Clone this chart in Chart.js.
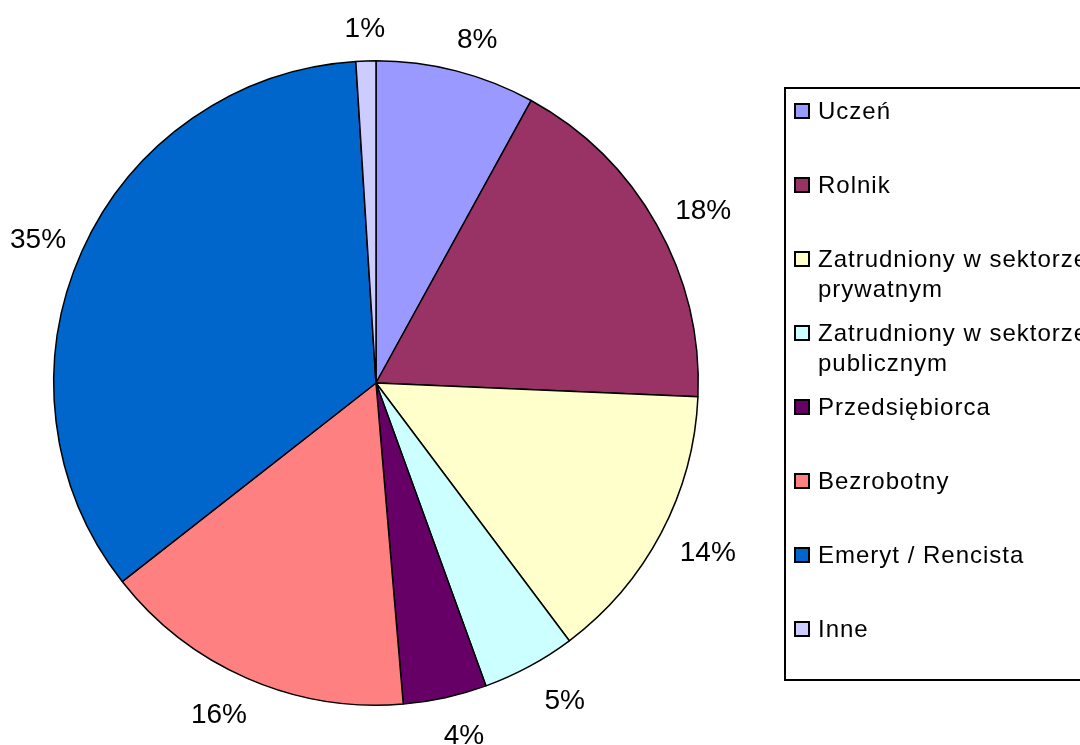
<!DOCTYPE html>
<html>
<head>
<meta charset="utf-8">
<script src="https://cdn.jsdelivr.net/npm/chart.js@4/dist/chart.umd.min.js"></script>
<style>
  html, body { margin: 0; padding: 0; background: #fff; }
  #wrap { width: 1080px; height: 745px; position: relative; }
</style>
</head>
<body>
<div id="wrap"><canvas id="pieChart"></canvas></div>
<script>
// Data
const categories = [
  "Uczeń",
  "Rolnik",
  "Zatrudniony w sektorze prywatnym",
  "Zatrudniony w sektorze publicznym",
  "Przedsiębiorca",
  "Bezrobotny",
  "Emeryt / Rencista",
  "Inne",
];
// legend lines (wrapped as in the picture)
const legendLines = [
  ["Uczeń"],
  ["Rolnik"],
  ["Zatrudniony w sektorze", "prywatnym"],
  ["Zatrudniony w sektorze", "publicznym"],
  ["Przedsiębiorca"],
  ["Bezrobotny"],
  ["Emeryt / Rencista"],
  ["Inne"],
];
const shares = [8.0, 17.7, 14.1, 4.7, 4.2, 15.8, 34.6, 1.0];
const sliceColors = [
  "#9999FF", "#993366", "#FFFFCC", "#CCFFFF",
  "#660066", "#FF8080", "#0066CC", "#CCCCFF",
];

const FONT = "'Liberation Sans', Arial, sans-serif";

// percentage labels outside the pie (a bit wider sideways than up/down, like Excel)
const outsideLabels = {
  id: "outsideLabels",
  afterDatasetsDraw(chart) {
    const ctx = chart.ctx;
    const meta = chart.getDatasetMeta(0);
    const data = chart.data.datasets[0].data;
    const total = data.reduce((a, b) => a + b, 0);
    ctx.save();
    ctx.font = "28px " + FONT;
    ctx.fillStyle = "#000";
    ctx.textAlign = "center";
    ctx.textBaseline = "middle";
    meta.data.forEach((arc, i) => {
      const mid = (arc.startAngle + arc.endAngle) / 2;
      const c = Math.cos(mid);
      const s = Math.sin(mid);
      // labels near top/bottom get pushed a little sideways
      const push = c * Math.pow(Math.abs(s), 3) * 35;
      const x = arc.x + 1.5 + c * (arc.outerRadius + 47.5) + push;
      const y = arc.y + 4 + s * (arc.outerRadius + 35.5);
      ctx.fillText(Math.round((data[i] / total) * 100) + "%", x, y);
    });
    ctx.restore();
  },
};

// boxed legend on the right, clipped by the canvas edge
const boxLegend = {
  id: "boxLegend",
  afterDraw(chart) {
    const ctx = chart.ctx;
    const colors = chart.data.datasets[0].backgroundColor;
    ctx.save();
    ctx.strokeStyle = "#000";
    ctx.lineWidth = 2;
    ctx.strokeRect(785, 88, 400, 592);
    ctx.font = "24px " + FONT;
    ctx.letterSpacing = "1px";
    ctx.textBaseline = "middle";
    ctx.textAlign = "left";
    legendLines.forEach((lines, i) => {
      const y = 111 + i * 74;
      ctx.fillStyle = colors[i];
      ctx.fillRect(795, y - 7, 14, 14);
      ctx.lineWidth = 2;
      ctx.strokeRect(795, y - 7, 14, 14);
      ctx.fillStyle = "#000";
      lines.forEach((t, j) => ctx.fillText(t, 818, y + 1 + j * 30));
    });
    ctx.restore();
  },
};

const ctxPie = document.getElementById("pieChart").getContext("2d");
const pieChart = new Chart(ctxPie, {
  type: "pie",
  data: {
    labels: categories,
    datasets: [
      {
        data: shares,
        backgroundColor: sliceColors,
        borderColor: "#000",
        borderWidth: 1.5,
      },
    ],
  },
  options: {
    responsive: true,
    maintainAspectRatio: false,
    animation: false,
    layout: { padding: { left: 53, right: 381, top: 60, bottom: 39 } },
    plugins: {
      legend: { display: false },
      tooltip: { enabled: false },
    },
  },
  plugins: [outsideLabels, boxLegend],
});
</script>
</body>
</html>
